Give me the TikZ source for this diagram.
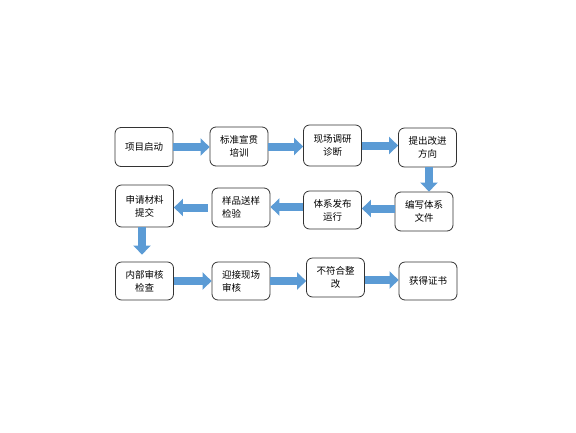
\documentclass[tikz,border=0pt]{standalone}
\usepackage{fontspec}
\setmainfont{Noto Sans CJK SC}
\usetikzlibrary{arrows.meta,positioning,calc}

\definecolor{flowblue}{HTML}{5B9BD5}

\tikzset{
  box/.style={draw=black!80, line width=0.8pt, rounded corners=6pt,
    minimum width=58pt, minimum height=39pt, inner sep=2pt,
    align=center, font=\fontsize{9.5}{13}\selectfont},
  flow/.style={draw=flowblue, line width=8pt,
    -{Triangle[width=17pt,length=9pt]}}
}

\begin{document}
\begin{tikzpicture}[x=1pt, y=-1pt]
  \useasboundingbox (0,0) rectangle (576,432);

  % 第一行
  \node[box] (qidong) at (144,147)   {项目启动};
  \node[box] (peixun) at (239,146.5) {标准宣贯\\培训};
  \node[box, minimum height=41pt] (zhenduan) at (332.5,145.5) {现场调研\\诊断};
  \node[box] (fangxiang) at (427.5,147.5) {提出改进\\方向};

  % 第二行
  \node[box] (wenjian) at (424,211.5) {编写体系\\文件};
  \node[box, minimum height=38pt] (yunxing) at (332.5,210) {体系发布\\运行};
  \node[box, align=left] (jianyan) at (241,207.5) {样品送样\\检验};
  \node[box, minimum height=42pt] (tijiao) at (144.5,206) {申请材料\\提交};

  % 第三行
  \node[box, minimum height=38pt] (jiancha) at (144.5,281) {内部审核\\检查};
  \node[box, minimum height=38pt, align=left] (shenhe) at (241,281) {迎接现场\\审核};
  \node[box] (zhenggai) at (335.5,277.5) {不符合整\\改};
  \node[box, minimum height=38pt] (zhengshu) at (428,281) {获得证书};

  % 箭头
  \draw[flow] (qidong.east) -- (peixun.west |- qidong.east);
  \draw[flow] (peixun.east) -- (zhenduan.west |- peixun.east);
  \draw[flow] (zhenduan.east) -- (fangxiang.west |- zhenduan.east);
  \draw[flow] ([xshift=1.5pt]fangxiang.south) -- ([xshift=1.5pt]fangxiang.south |- wenjian.north);
  \draw[flow] ([yshift=3pt]wenjian.west) -- ([yshift=3pt]wenjian.west -| yunxing.east);
  \draw[flow] ([yshift=3pt]yunxing.west) -- ([yshift=3pt]yunxing.west -| jianyan.east);
  \draw[flow] ([xshift=-4pt]jianyan.west) -- (jianyan.west -| tijiao.east);
  \draw[flow, shorten >=7pt] ([xshift=-2.5pt]tijiao.south) -- ([xshift=-2.5pt]tijiao.south |- jiancha.north);
  \draw[flow] (jiancha.east) -- (shenhe.west |- jiancha.east);
  \draw[flow] (shenhe.east) -- (zhenggai.west |- shenhe.east);
  \draw[flow] ([yshift=-2.5pt]zhenggai.east) -- ([yshift=-2.5pt]zhenggai.east -| zhengshu.west);
\end{tikzpicture}
\end{document}
